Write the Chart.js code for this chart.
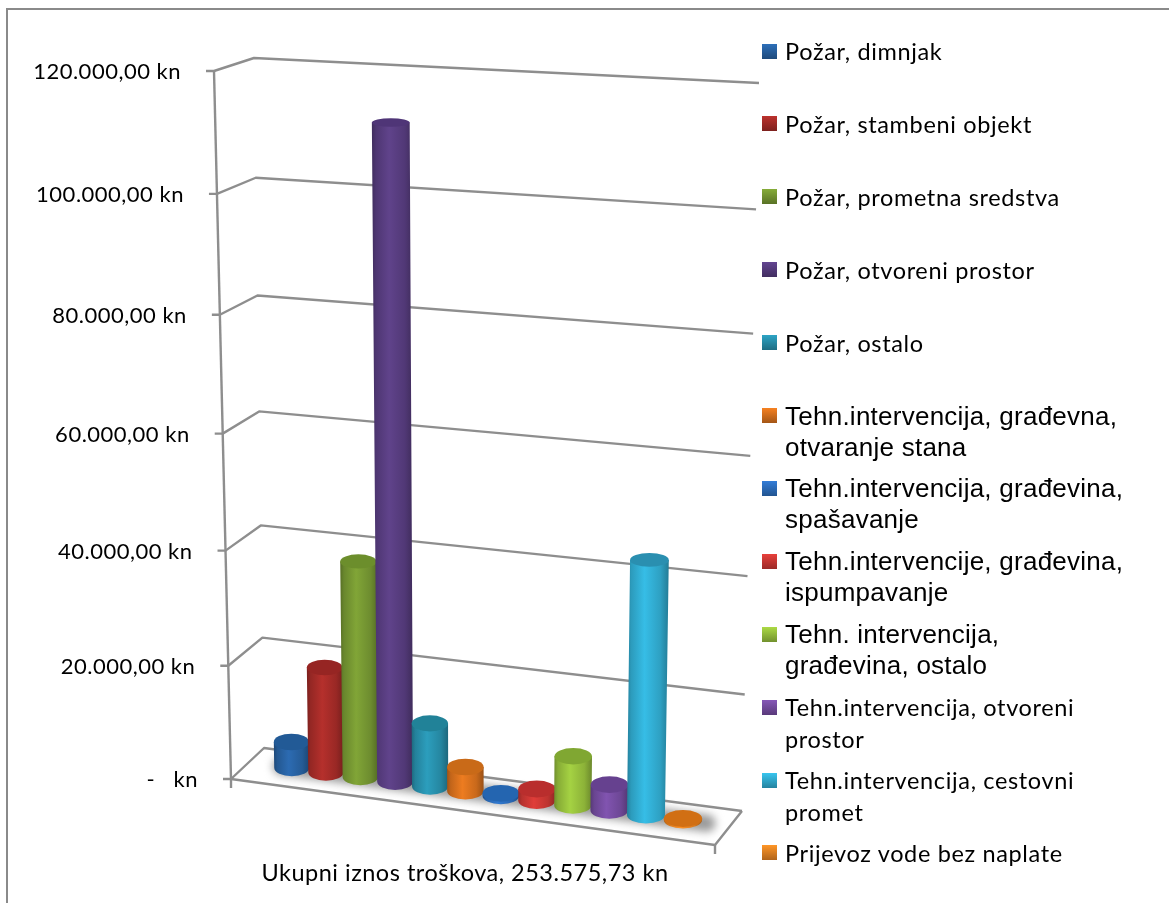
<!DOCTYPE html>
<html><head><meta charset="utf-8">
<style>
html,body{margin:0;padding:0;background:#fff;width:1169px;height:903px;overflow:hidden}
#frame{position:absolute;left:6px;top:8px;width:1200px;height:1000px;border-left:2px solid #8a8a8a;border-top:2px solid #8a8a8a}
canvas{position:absolute;left:0;top:0}
#legend{position:absolute;left:0;top:0}
.sw{position:absolute;left:762px;width:15px;height:15px}
.tx{position:absolute;left:785px;white-space:pre;color:#000}
</style>
<script src="https://cdn.jsdelivr.net/npm/chart.js@4"></script>
</head><body>
<div id="frame"></div>
<canvas id="c" width="1169" height="903"></canvas>
<div id="legend"></div>
<script>
const categories = ['Ukupni iznos troškova, 253.575,73 kn'];
const seriesNames = [
 'Požar, dimnjak','Požar, stambeni objekt','Požar, prometna sredstva','Požar, otvoreni prostor','Požar, ostalo',
 'Tehn.intervencija, građevna,\notvaranje stana','Tehn.intervencija, građevina,\nspašavanje',
 'Tehn.intervencije, građevina,\nispumpavanje','Tehn. intervencija,\ngrađevina, ostalo',
 'Tehn.intervencija, otvoreni\nprostor','Tehn.intervencija, cestovni\npromet','Prijevoz vode bez naplate'];
const seriesValues = [4600,18600,37800,111750,11050,4200,400,2000,8500,4400,43250,275];
const seriesColors = ['#2a67ab','#ae2e2a','#7c9f35','#5c4086','#2a98b6','#e4771f','#2f74c8','#d73b37','#9fca40','#7c51a9','#34b6dd','#f58b24'];
const topColors    = ['#225a96','#962523','#6c8e2c','#4f3577','#218298','#c96a18','#2465b0','#b92e2d','#80a732','#66418f','#2a8fb0','#d16f14'];
const yTickLabels  = ['-   kn','20.000,00 kn','40.000,00 kn','60.000,00 kn','80.000,00 kn','100.000,00 kn','120.000,00 kn'];

/* 3D box corners of the plot */
const BOX = {
  fl:[[231,779],[214,71]], bl:[[264,748],[254,58]],
  br:[[742,811],[759,83]], fr:[[715,845],[727,96]]
};
const lerp=(a,b,t)=>a+(b-a)*t;
const lp=(p,q,t)=>[lerp(p[0],q[0],t),lerp(p[1],q[1],t)];
function project(t,s,d){
  const L=lp(lp(BOX.fl[0],BOX.fl[1],s),lp(BOX.bl[0],BOX.bl[1],s),d);
  const R=lp(lp(BOX.fr[0],BOX.fr[1],s),lp(BOX.br[0],BOX.br[1],s),d);
  return lp(L,R,t/(1+0.055*(1-t)));
}
const warp=f=>f/(1+0.05*(1-f));

class PerspectiveLinear extends Chart.LinearScale{
  getPixelForValue(v){
    const f=(v-this.min)/(this.max-this.min);
    return this.bottom-warp(f)*(this.bottom-this.top);
  }
  _computeLabelItems(area){
    const items=super._computeLabelItems(area);
    items.forEach((it,i)=>{
      const s=(this.bottom-this.getPixelForTick(i))/(this.bottom-this.top);
      it.options.translation[0]=project(0,s,0)[0]-33;
      it.options.translation[1]+=1;
    });
    return items;
  }
}
PerspectiveLinear.id='perspectiveLinear';
PerspectiveLinear.defaults=Chart.LinearScale.defaults;

class SideCategory extends Chart.CategoryScale{
  _computeLabelItems(area){
    const items=super._computeLabelItems(area);
    items.forEach(it=>{it.options.translation[0]-=8;});
    return items;
  }
}
SideCategory.id='sideCategory';
SideCategory.defaults=Chart.CategoryScale.defaults;

function shade(hex,k){
  const n=parseInt(hex.slice(1),16);
  const c=[n>>16,(n>>8)&255,n&255].map(v=>Math.min(255,Math.round(v*k)));
  return `rgb(${c[0]},${c[1]},${c[2]})`;
}
const DEPTH=0.55;
class CylinderController extends Chart.BarController{
  draw(){
    const chart=this.chart,ctx=chart.ctx,a=chart.chartArea;
    const i=this.index;
    this._cachedMeta.data.forEach(el=>{
      const toS=p=>(a.bottom-p)/(a.bottom-a.top);
      const t=(el.x-a.left)/(a.right-a.left), hw=el.width*1.03/(a.right-a.left)/2;
      const sb=toS(el.base), st=toS(el.y);
      const disc=s=>{
        const l=project(t-hw,s,DEPTH),r=project(t+hw,s,DEPTH);
        return {cx:(l[0]+r[0])/2,cy:(l[1]+r[1])/2,rx:(r[0]-l[0])/2,ry:8.5-4.5*s};
      };
      const B=disc(sb),T=disc(st);
      const g=ctx.createLinearGradient(Math.min(B.cx-B.rx,T.cx-T.rx),0,Math.max(B.cx+B.rx,T.cx+T.rx),0);
      const col=seriesColors[i];
      g.addColorStop(0,shade(col,.7));g.addColorStop(.1,shade(col,.85));g.addColorStop(.42,shade(col,1.04));
      g.addColorStop(.8,shade(col,.88));g.addColorStop(1,shade(col,.68));
      ctx.save();
      ctx.beginPath();
      ctx.moveTo(T.cx-T.rx,T.cy);
      ctx.lineTo(B.cx-B.rx,B.cy);
      ctx.ellipse(B.cx,B.cy,B.rx,B.ry,0,Math.PI,0,true);
      ctx.lineTo(T.cx+T.rx,T.cy);
      ctx.closePath();
      ctx.fillStyle=g;ctx.fill();
      ctx.beginPath();
      ctx.ellipse(T.cx,T.cy,T.rx,T.ry,0,0,Math.PI*2);
      ctx.fillStyle=topColors[i];ctx.fill();
      ctx.restore();
    });
  }
}
CylinderController.id='cylinder';
CylinderController.defaults=Chart.BarController.defaults;
CylinderController.overrides=Chart.BarController.overrides;

const box3d={
  id:'box3d',
  beforeDraw(chart){chart.ctx.letterSpacing='0.5px';},
  beforeDatasetsDraw(chart){
    const ctx=chart.ctx,y=chart.scales.y,a=chart.chartArea;
    const line=(pts)=>{ctx.beginPath();pts.forEach((p,i)=>i?ctx.lineTo(p[0],p[1]):ctx.moveTo(p[0],p[1]));ctx.stroke();};
    ctx.save();
    ctx.strokeStyle='#8e8e8e';ctx.lineWidth=2.4;ctx.lineJoin='round';
    y.ticks.forEach((tk,i)=>{
      const s=(a.bottom-y.getPixelForTick(i))/(a.bottom-a.top);
      const f=project(0,s,0),b=project(0,s,1),r=project(1,s,1);
      line([[f[0]-8,f[1]],f,b,r]);
    });
    line([project(0,1,0),project(0,0,0)]);
    const p0=project(0,0,0),p1=project(1,0,0),p2=project(1,0,1);
    line([p0,p1,p2]);
    line([p0,[p0[0],p0[1]+9]]);
    line([p1,[p1[0],p1[1]+9]]);
    // soft shadow of the bars on the floor
    ctx.save();
    ctx.filter='blur(4px)';
    ctx.strokeStyle='#9a9a9a';ctx.lineWidth=17;ctx.lineCap='round';
    line([project(.07,0,.55),project(.955,0,.55)]);
    ctx.restore();
    ctx.restore();
    chart.getSortedVisibleDatasetMetas().slice().sort((m,n)=>m.index-n.index).forEach(m=>m.controller.draw());
    return false;
  }
};

Chart.register(PerspectiveLinear,SideCategory,CylinderController);

const FONT='Lato';
new Chart(document.getElementById('c'),{
  type:'cylinder',
  data:{labels:categories,datasets:seriesNames.map((n,i)=>({
    label:n.replace('\n',' '),data:[seriesValues[i]],backgroundColor:seriesColors[i],
    barPercentage:1,categoryPercentage:.888
  }))},
  plugins:[box3d],
  options:{
    responsive:false,animation:false,
    layout:{padding:{top:71,right:454,left:0,bottom:0}},
    plugins:{legend:{display:false},tooltip:{enabled:false},title:{display:false}},
    scales:{
      y:{type:'perspectiveLinear',min:0,max:120000,
        afterFit(s){s.width=231;},
        grid:{display:false},border:{display:false},
        ticks:{stepSize:20000,color:'#000',font:{family:FONT,size:22},
          callback:(v)=>yTickLabels[Math.round(v/20000)]}},
      x:{type:'sideCategory',
        afterFit(s){s.height=124;},
        grid:{display:false},border:{display:false},
        ticks:{color:'#000',padding:72,font:{family:FONT,size:23.5},maxRotation:0}}
    }
  }
});

/* legend */
const legendFonts=[0,0,0,0,0,1,1,1,1,0,0,0];
const lg=document.getElementById('legend');
seriesNames.forEach((n,i)=>{
  const cy=51+i*72.9;
  const sw=document.createElement('div');sw.className='sw';
  sw.style.top=(cy-7.5)+'px';
  sw.style.background=`linear-gradient(${shade(seriesColors[i],1.08)},${shade(seriesColors[i],.72)})`;
  lg.appendChild(sw);
  n.split('\n').forEach((ln,j)=>{
    const d=document.createElement('div');d.className='tx';d.textContent=ln;
    const arial=legendFonts[i];
    d.style.font=arial?'26px "Liberation Sans"':'23.5px Lato';
    d.style.letterSpacing=arial?'0.25px':'0.65px';
    d.style.lineHeight='32px';
    d.style.top=(cy-16+j*(arial?31:32))+'px';
    lg.appendChild(d);
  });
});
</script>
</body></html>
